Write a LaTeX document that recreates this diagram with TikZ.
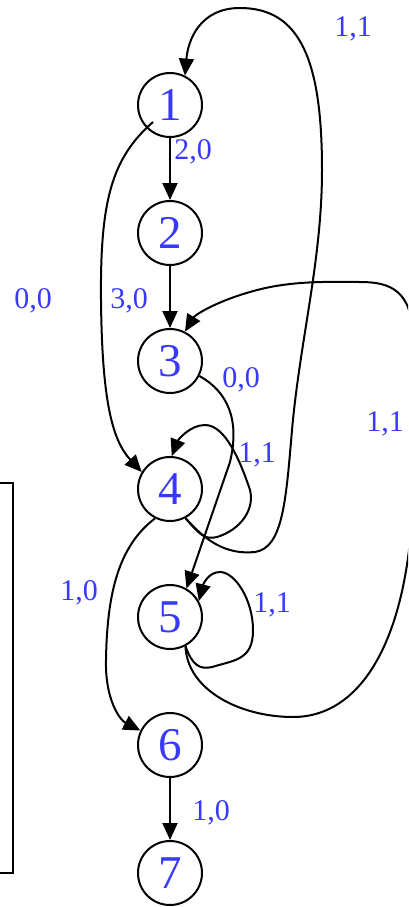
\documentclass[tikz,border=0pt]{standalone}
\usepackage{fontspec}
\setmainfont{Liberation Serif}
\usetikzlibrary{arrows.meta,calc}
\definecolor{lblue}{RGB}{56,56,255}
\tikzset{
  state/.style={circle,draw=black,line width=2pt,minimum size=64pt,inner sep=0pt,text=lblue,font=\fontsize{47}{47}\selectfont},
  lbl/.style={text=lblue,font=\fontsize{30}{30}\selectfont,inner sep=0pt},
  arr/.style={line width=2pt,-{Triangle[length=17pt,width=15pt]}},
  plain/.style={line width=2pt}
}
\begin{document}
\begin{tikzpicture}[x=1pt,y=-1pt]
\useasboundingbox (0,0) rectangle (408,907);
\clip (0,0) rectangle (408,907);
\node[state] (n1) at (170,105) {1};
\node[state] (n2) at (170,233) {2};
\node[state] (n3) at (170,361) {3};
\node[state] (n4) at (170,489) {4};
\node[state] (n5) at (170,617) {5};
\node[state] (n6) at (170,745) {6};
\node[state] (n7) at (170,873) {7};
% straight edges
\draw[arr] (n1) -- (n2);
\draw[arr] (n2) -- (n3);
\draw[arr] (n6) -- (n7);
% 1 -> 4
\coordinate (s14) at ($(n1)+(-17,17)$);
\draw[arr] (s14) .. controls (112,158) and (100,200) .. (101,300) .. controls (102,400) and (112,440) .. (n4.149);
% 4 -> 1
\draw[arr] (n4.-62) .. controls (205,540) and (225,555) .. (255,552) .. controls (283,548) and (286,500) .. (292,430) .. controls (300,340) and (322,260) .. (322,170) .. controls (322,60) and (300,8) .. (240,8) .. controls (200,8) and (188,40) .. (n1.63);
% 4 self loop
\draw[arr] (n4.-62) .. controls (200,535) and (205,540) .. (217,537) .. controls (240,530) and (255,510) .. (250,490) .. controls (240,460) and (225,425) .. (205,425) .. controls (190,425) and (178,440) .. (n4.87);
% 3 -> 5
\draw[arr] (n3.-27) .. controls (228,392) and (240,420) .. (230,462) -- (n5.60);
% 5 -> 3
\draw[arr] (n5.-62) .. controls (187,690) and (240,717) .. (293,717) .. controls (370,717) and (413,620) .. (413,480) -- (413,340) .. controls (413,290) and (390,282) .. (360,282) .. controls (330,282) and (290,280) .. (250,292) .. controls (215,302) and (195,315) .. (n3.63);
% 5 self loop
\draw[arr] (n5.-62) .. controls (192,665) and (200,670) .. (212,667) .. controls (235,660) and (253,660) .. (253,630) .. controls (253,600) and (235,572) .. (220,572) .. controls (208,572) and (203,585) .. (n5.29);
% 4 -> 6
\draw[arr] (n4.-117) .. controls (120,545) and (107,590) .. (106,660) .. controls (105,700) and (120,720) .. (n6.154);
% left box
\draw[plain] (0,483) -- (13,483) -- (13,873) -- (0,873);
% labels
\node[lbl] (l1) at (353,29) {1,1};
\node[lbl] (l2) at (193,152) {2,0};
\node[lbl] (l3) at (33,301) {0,0};
\node[lbl] (l4) at (129,301) {3,0};
\node[lbl] (l5) at (241,380) {0,0};
\node[lbl] (l6) at (257,455) {1,1};
\node[lbl] (l7) at (385,424) {1,1};
\node[lbl] (l8) at (79,593) {1,0};
\node[lbl] (l9) at (272,605) {1,1};
\node[lbl] (l10) at (211,813) {1,0};
\end{tikzpicture}
\end{document}
